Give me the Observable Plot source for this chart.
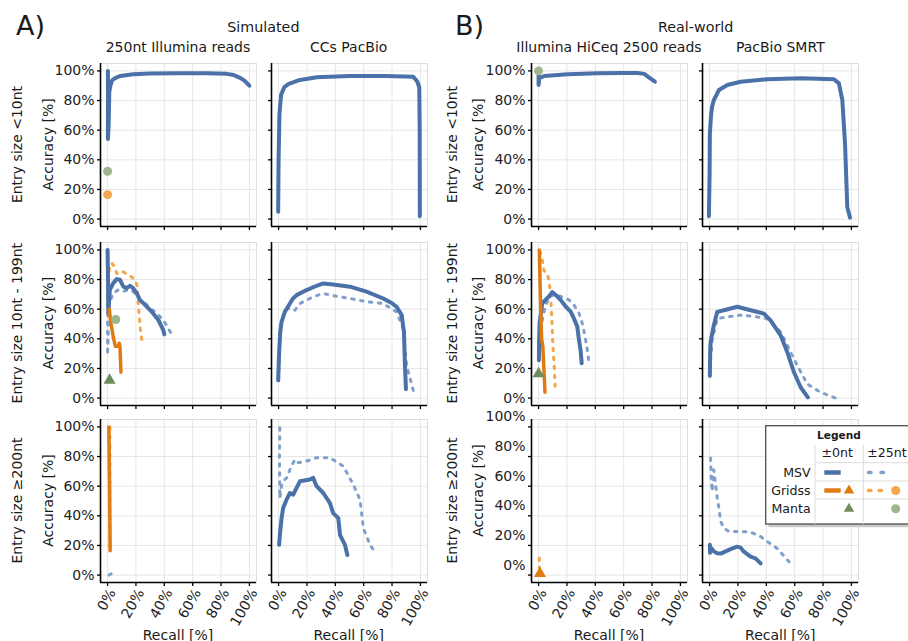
<!DOCTYPE html>
<html><head><meta charset="utf-8">
<script src="https://cdn.jsdelivr.net/npm/d3@7"></script>
<script src="https://cdn.jsdelivr.net/npm/@observablehq/plot@0.6"></script>
<style>
body{margin:0;background:#fff;font-family:"DejaVu Sans",sans-serif;}
#chart{position:relative;width:908px;height:641px;overflow:hidden;background:#fff;}
#chart svg{position:absolute;background:transparent !important;overflow:visible;}
</style></head><body><div id="chart"></div>
<script>
// ---------- labels ----------
const groupTags = ["A)", "B)"];
const groupTitles = ["Simulated", "Real-world"];
const columnTitles = ["250nt Illumina reads", "CCs PacBio", "Illumina HiCeq 2500 reads", "PacBio SMRT"];
const rowTitles = ["Entry size <10nt", "Entry size 10nt - 199nt", "Entry size \u2265200nt"];
const pctTicks = [0, 20, 40, 60, 80, 100];
const legendCols = ["\u00b10nt", "\u00b125nt"];
const legendRows = ["MSV", "Gridss", "Manta"];

// ---------- data: [recall %, accuracy %] ----------
// Row 1: <10nt
const r1c1_msv0 = [[0.2,100],[0.3,80],[0.2,54],[0.7,62],[1.2,86],[2,90],[3.1,93.5],[5,95],[9,96.6],[18,97.8],[30,98.2],[50,98.4],[70,98.4],[84,98],[89,97.2],[93,95.5],[96,93.8],[98,92],[100,90]];
const r1c1_gridss25_pts = [[0,16.5]];
const r1c1_manta25_pts = [[0,32.3]];
const r1c2_msv0 = [[-0.3,5],[0,40],[0.6,71],[1.8,84],[4,89],[6.8,91],[15,93.9],[27,95.7],[50,96.6],[75,96.5],[95,96],[97.7,93],[99.2,89],[99.5,60],[99.6,2]];
const r1c3_msv0 = [[0,97],[0,90.5],[0.5,95],[4,96.6],[20.5,97.8],[41.7,98.5],[60,98.6],[69.8,98.6],[74.5,98],[78,95.5],[82,92.7]];
const r1c3_manta25_pts = [[0,100]];
const r1c4_msv0 = [[-0.5,2],[0,30],[0.2,57.7],[1,70],[1.8,76],[3,80.3],[6.6,87.1],[12.5,90.5],[21.9,92.7],[40.7,94.4],[64.2,95],[87.7,94.4],[91.2,91.6],[93.6,80.3],[95.5,51],[97.1,8],[99,1]];
// Row 2: 10nt - 199nt
const r2c1_msv0 = [[0,100],[0.3,80],[0.5,58],[1,65],[1.6,73],[4,77.6],[6.4,80.3],[8.7,79.9],[11,75.3],[13.4,74.2],[15.8,75.8],[18,74.2],[20.5,70.8],[22.8,66.3],[26.4,62.9],[31,58.4],[35.8,52.7],[39.3,45.9],[40,43]];
const r2c1_msv25 = [[0,100],[0,70],[0,29],[0.5,45],[1,60],[1.6,65],[4,70.8],[7.5,73],[11,72],[14.6,73],[18,72],[20.5,69.7],[22.8,66.3],[26.4,64],[30,60.6],[34.6,57.2],[39.3,52.7],[42.8,47],[45.2,43]];
const r2c1_gridss0 = [[1.2,60],[2,53],[2.8,48],[4,41.4],[5,37],[5.5,35],[7.5,35],[8.2,37],[8.7,35],[9.4,17.5]];
const r2c1_gridss25 = [[0.5,88],[1,84],[1.5,90],[3,91],[4.9,88.7],[6.5,84],[9,84.2],[10.8,85.3],[14.8,83],[18.4,80.8],[20.7,76.3],[21.9,60.4],[23.1,46.8],[24.3,38]];
const r2c1_manta0_pts = [[1.4,12]];
const r2c1_manta25_pts = [[5.8,53]];
const r2c2_msv0 = [[-0.3,12],[0.4,31],[1.2,45],[2.1,51.4],[4.4,58.2],[8,63.8],[10,67],[12.7,69.5],[19.7,72.9],[26.8,75.8],[31.5,77.4],[38.5,76.7],[50.3,75.2],[62,71.8],[73.8,67.2],[80,64],[83.2,61.6],[86.8,56],[88.4,44.6],[89.1,22],[89.8,6]];
const r2c2_msv25 = [[0,12],[0.5,35],[0.9,44.6],[3.2,56],[6,60],[8,60.8],[11.5,59.3],[15,63.8],[24.4,68.4],[31.5,70.6],[38.5,69.1],[50.3,67.2],[62,65],[73.8,63.8],[83.2,58.2],[87.9,46.8],[90.3,22],[95,5]];
const r2c3_msv0 = [[0.2,25.6],[0.4,40],[0.7,50.5],[2.6,64],[4.9,66.3],[7.3,68.6],[9.6,71.5],[12,69.7],[15.5,66.3],[19.1,61.8],[22.6,58.4],[24.9,53.8],[27.3,48.2],[28.5,39.1],[29.6,32.4],[30.4,23.5]];
const r2c3_msv25 = [[0.5,28],[0.9,32.4],[2.6,52.7],[4.9,62.9],[8.5,68.6],[12,70.4],[16.7,68.1],[21.4,66.3],[24.9,62.9],[28.5,57.2],[30.8,50.5],[33.2,39.1],[34.4,32.4],[35.5,24]];
const r2c3_gridss0 = [[0.5,100],[1,80],[1.5,60],[2.1,40],[3,35],[3.5,25],[4.5,4]];
const r2c3_gridss25 = [[1,99],[2.6,93],[3.8,86],[6,84],[7.5,79],[8.7,65],[9.6,48],[10.1,35],[11,22],[11.7,8]];
const r2c3_manta0_pts = [[0,16.5]];
const r2c4_msv0 = [[0.2,15],[0.4,30],[0.7,37.8],[3,49.2],[5.4,58.2],[10.1,59.3],[19.5,61.6],[28.9,59.3],[38.3,57],[43,52.5],[50.1,42.4],[54.8,31],[59.5,17.4],[64.2,7.3],[69.3,0.5]];
const r2c4_msv25 = [[0.2,20],[1.9,40],[5.4,53.6],[12.5,54.8],[21.9,56],[33.6,54.8],[40.7,53.6],[50.1,44.6],[54.8,35.5],[61.8,22],[68.9,9.5],[78.3,3.9],[88.9,0]];
// Row 3: >=200nt
const r3c1_gridss0 = [[0.9,100],[1.4,60],[1.8,16.5]];
const r3c1_gridss25 = [[1.6,100],[1.6,16.5]];
const r3c1_msv25 = [[1,0],[4.5,2]];
const r3c2_msv0 = [[0.4,20.4],[0.9,27.2],[2.1,38.4],[3.2,45.2],[5.6,50.9],[8,55.4],[10.3,54.3],[12.7,58.8],[15,63.3],[22.1,64.5],[24.4,65.6],[26.8,60],[31.5,55.4],[36.2,48.6],[38.5,41.8],[42.1,38.4],[43.3,27.2],[46.8,20.4],[48.5,13.6]];
const r3c2_msv25 = [[0.9,99.5],[0.6,80],[0.9,52],[2,60],[3.2,63.3],[5.6,65.6],[9.1,73.5],[11.5,78],[13.9,75.8],[19.7,76.9],[26.8,79.2],[36.2,79.2],[45.6,73.5],[52.7,61.1],[57.4,50.9],[59.8,31.6],[64.5,20.4],[66.9,17]];
const r3c3_gridss25 = [[0.5,11.5],[0.5,4]];
const r3c3_gridss0_pts = [[1,1]];
const r3c4_msv0 = [[0.2,20.5],[0.3,15],[1.5,18],[3,16],[5.4,14.7],[8,14.5],[10.1,15.5],[14.8,17.5],[19.5,19.2],[21.9,18.5],[24.2,15.8],[28.9,12.4],[32.4,11.3],[36,7.9]];
const r3c4_msv25 = [[0.7,79],[1.2,65],[1.9,56.5],[2.5,68],[3,71],[4.2,61.1],[5.4,52],[6.6,45.2],[7.8,36.2],[10.1,31.7],[13.6,29.4],[21.9,29.4],[28.9,29],[36,26],[40.7,22.6],[47.7,18],[56,9]];

// ---------- styling ----------
const C = {msv0:"#4a71a8", msv25:"#819fcb", gridss0:"#e07b12", gridss25:"#f5a54b", manta0:"#6f8d5a", manta25:"#9fb58b"};
const FONT = "DejaVu Sans";
const W = 156, H = 163;
const colLeft = [100, 270.7, 531, 702.3];
const rowTop = [63, 241.7, 419];
const ML = 52, MR = 6, MT = 6;

const panels = [
  {row:0,col:0,msv0:r1c1_msv0,gridss25pts:r1c1_gridss25_pts,manta25pts:r1c1_manta25_pts},
  {row:0,col:1,msv0:r1c2_msv0},
  {row:0,col:2,msv0:r1c3_msv0,manta25pts:r1c3_manta25_pts},
  {row:0,col:3,msv0:r1c4_msv0},
  {row:1,col:0,msv0:r2c1_msv0,msv25:r2c1_msv25,gridss0:r2c1_gridss0,gridss25:r2c1_gridss25,manta0pts:r2c1_manta0_pts,manta25pts:r2c1_manta25_pts},
  {row:1,col:1,msv0:r2c2_msv0,msv25:r2c2_msv25},
  {row:1,col:2,msv0:r2c3_msv0,msv25:r2c3_msv25,gridss0:r2c3_gridss0,gridss25:r2c3_gridss25,manta0pts:r2c3_manta0_pts},
  {row:1,col:3,msv0:r2c4_msv0,msv25:r2c4_msv25},
  {row:2,col:0,gridss0:r3c1_gridss0,gridss25:r3c1_gridss25,msv25:r3c1_msv25},
  {row:2,col:1,msv0:r3c2_msv0,msv25:r3c2_msv25},
  {row:2,col:2,gridss25:r3c3_gridss25,gridss0pts:r3c3_gridss0_pts},
  {row:2,col:3,msv0:r3c4_msv0,msv25:r3c4_msv25}
];

const chart = document.getElementById("chart");
const lineOpts = (stroke, width, dash) => ({x: d => d[0], y: d => d[1], stroke, strokeWidth: width,
  strokeDasharray: dash, strokeLinecap: "round", strokeLinejoin: "round"});
const dash = "2.5,6.5";

for (const p of panels) {
  const bottom = p.row === 2;
  const leftLabels = p.col === 0 || p.col === 2;
  const MB = bottom ? 55 : 8;
  const shift = (p.row === 2 && p.col === 2) ? -10 : 0;
  const marks = [
    Plot.gridX(pctTicks, {stroke: "#e6e6e6", strokeOpacity: 1, strokeWidth: 1}),
    Plot.gridY(pctTicks, {stroke: "#e6e6e6", strokeOpacity: 1, strokeWidth: 1}),
    Plot.frame({stroke: "#dddddd"})
  ];
  if (p.msv25) marks.push(Plot.line(p.msv25, lineOpts(C.msv25, 3, dash)));
  if (p.gridss25) marks.push(Plot.line(p.gridss25, lineOpts(C.gridss25, 3, dash)));
  if (p.msv0) marks.push(Plot.line(p.msv0, lineOpts(C.msv0, 4)));
  if (p.gridss0) marks.push(Plot.line(p.gridss0, lineOpts(C.gridss0, 3.5)));
  if (p.gridss25pts) marks.push(Plot.dot(p.gridss25pts, {x: d=>d[0], y: d=>d[1], r: 4.5, fill: C.gridss25, symbol: "circle"}));
  if (p.manta25pts) marks.push(Plot.dot(p.manta25pts, {x: d=>d[0], y: d=>d[1], r: 4.5, fill: C.manta25, symbol: "circle"}));
  if (p.manta0pts) marks.push(Plot.dot(p.manta0pts, {x: d=>d[0], y: d=>d[1], r: 4.5, fill: C.manta0, symbol: "triangle"}));
  if (p.gridss0pts) marks.push(Plot.dot(p.gridss0pts, {x: d=>d[0], y: d=>d[1], r: 4.5, fill: C.gridss0, symbol: "triangle"}));
  marks.push(
    Plot.ruleX([-5], {stroke: "#000", strokeWidth: 1.6}),
    Plot.ruleY([-5], {stroke: "#000", strokeWidth: 1.6}),
    Plot.axisX(pctTicks, {tickSize: 4, fill: "none", stroke: "#000", strokeWidth: 1.3, label: null}),
    Plot.axisY(pctTicks, {tickSize: 3, fill: "none", stroke: "#000", strokeWidth: 1.3, label: null})
  );
  if (leftLabels) marks.push(Plot.axisY(pctTicks, {tickSize: 0, tickPadding: 6, tickFormat: d => d + "%",
    fill: "#222", label: null, dy: shift, fontSize: 14}));
  if (bottom) marks.push(Plot.axisX(pctTicks, {tickSize: 0, tickPadding: 5, tickRotate: -60, textAnchor: "end",
    lineAnchor: "top", tickFormat: d => d + "%", fill: "#222", label: null, fontSize: 14}));
  const svg = Plot.plot({
    width: ML + W + MR, height: MT + H + MB,
    marginLeft: ML, marginRight: MR, marginTop: MT, marginBottom: MB,
    x: {domain: [-5, 105], axis: null},
    y: {domain: [-5, 105], axis: null},
    style: {fontFamily: FONT, fontSize: "14px", background: "transparent", overflow: "visible"},
    marks
  });
  svg.style.left = (colLeft[p.col] - ML) + "px";
  svg.style.top = (rowTop[p.row] - MT) + "px";
  chart.appendChild(svg);
}

// ---------- overlay: titles, axis titles, legend ----------
const ov = d3.select(chart).append("svg").attr("width", 908).attr("height", 641)
  .style("left", "0px").style("top", "0px")
  .attr("font-family", FONT).attr("fill", "#1a1a1a");
const txt = (x, y, s, size, anchor, rot) => {
  const t = ov.append("text").attr("font-size", size).attr("text-anchor", anchor || "start").text(s);
  if (rot) t.attr("transform", `translate(${x},${y}) rotate(${rot})`); else t.attr("x", x).attr("y", y);
  return t;
};
const colCenter = c => colLeft[c] + W / 2;
const rowCenter = r => rowTop[r] + H / 2;
txt(16, 35, groupTags[0], 27);
txt(455, 35, groupTags[1], 27);
txt((colLeft[0] + colLeft[1] + W) / 2, 31.5, groupTitles[0], 14.3, "middle");
txt((colLeft[2] + colLeft[3] + W) / 2 + 1, 31.5, groupTitles[1], 14.3, "middle");
columnTitles.forEach((s, c) => txt(colCenter(c), 51.5, s, 14, "middle"));
rowTitles.forEach((s, r) => {
  txt(22, rowCenter(r), s, 14, "middle", -90);
  txt(457, rowCenter(r), s, 14, "middle", -90);
  txt(53, rowCenter(r), "Accuracy [%]", 14, "middle", -90);
  txt(483, rowCenter(r) + (r === 2 ? -10 : 0), "Accuracy [%]", 14, "middle", -90);
});
[0, 1, 2, 3].forEach(c => txt(colCenter(c), 639.5, "Recall [%]", 14, "middle"));

// legend
const L = ov.append("g");
const LFS = 12.6;
L.append("rect").attr("x", 768.5).attr("y", 428.7).attr("width", 160).attr("height", 98.5).attr("fill", "#c9c9c9");
L.append("rect").attr("x", 765.7).attr("y", 425.7).attr("width", 160).attr("height", 98.3)
  .attr("fill", "#fff").attr("stroke", "#4d4d4d").attr("stroke-width", 1.3);
const sep = "#dcdcdc";
[815, 863.3].forEach(x => L.append("line").attr("x1", x).attr("x2", x).attr("y1", 445).attr("y2", 524).attr("stroke", sep));
[462.7, 481, 499].forEach(y => L.append("line").attr("x1", 815).attr("x2", 908).attr("y1", y).attr("y2", y).attr("stroke", sep));
L.append("text").attr("x", 839).attr("y", 439).attr("text-anchor", "middle").attr("font-size", 10.6).attr("font-weight", "bold").text("Legend");
L.append("text").attr("x", 837.3).attr("y", 456.5).attr("text-anchor", "middle").attr("font-size", LFS).text(legendCols[0]);
L.append("text").attr("x", 867.3).attr("y", 456.5).attr("font-size", LFS).text(legendCols[1]);
const rowY = [472.5, 490.5, 508.8];
const rowBase = [476.7, 495, 513.3];
legendRows.forEach((s, i) => L.append("text").attr("x", 810.7).attr("y", rowBase[i]).attr("text-anchor", "end").attr("font-size", LFS).text(s));
const seg = (x1, x2, y, color, w, da) => L.append("line").attr("x1", x1).attr("x2", x2).attr("y1", y).attr("y2", y)
  .attr("stroke", color).attr("stroke-width", w).attr("stroke-dasharray", da || null).attr("stroke-linecap", da ? "round" : "butt");
const tri = (x, y, color) => L.append("path").attr("d", d3.symbol(d3.symbolTriangle, 48)()).attr("transform", `translate(${x},${y})`).attr("fill", color);
const circ = (x, y, color) => L.append("circle").attr("cx", x).attr("cy", y).attr("r", 4.5).attr("fill", color);
seg(824.3, 840.7, rowY[0], C.msv0, 4.5);
seg(868.5, 884, rowY[0], C.msv25, 3.5, "2.5,10");
seg(824.3, 840.7, rowY[1], C.gridss0, 4.5);
tri(849, rowY[1], C.gridss0);
seg(868.5, 887, rowY[1], C.gridss25, 3.5, "2.5,8");
circ(895.7, rowY[1], C.gridss25);
tri(849, rowY[2], C.manta0);
circ(895.7, rowY[2], C.manta25);
</script></body></html>
